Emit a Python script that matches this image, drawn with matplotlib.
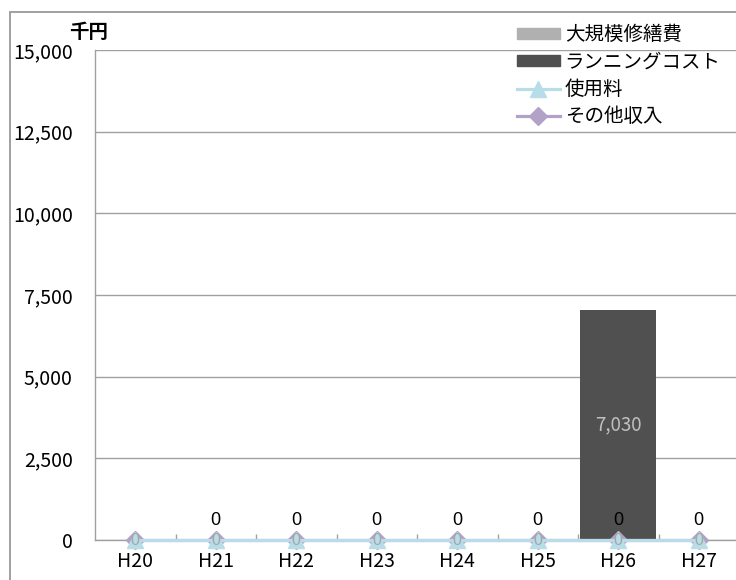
import numpy as np
import matplotlib.pyplot as plt
from matplotlib.lines import Line2D
from matplotlib.patches import Patch, Rectangle

plt.rcParams['font.family'] = ['Noto Sans CJK JP', 'DejaVu Sans']

# 年度別の収支（千円）
years = ['H20', 'H21', 'H22', 'H23', 'H24', 'H25', 'H26', 'H27']
repair_cost = [np.nan, 0, 0, 0, 0, 0, 0, 0]      # 大規模修繕費
running_cost = [0, 0, 0, 0, 0, 0, 7030, 0]        # ランニングコスト
usage_fee = [0, 0, 0, 0, 0, 0, 0, 0]              # 使用料
other_income = [0, 0, 0, 0, 0, 0, 0, 0]           # その他収入
y_ticks = [0, 2500, 5000, 7500, 10000, 12500, 15000]

C_REPAIR = '#B0B0B0'
C_RUNNING = '#505050'
C_USAGE = '#B7DDE8'
C_OTHER = '#B3A2C7'
C_GRID = '#A0A0A0'
NUM_FONT = ['Liberation Sans', 'DejaVu Sans']

W, H = 736, 580
fig = plt.figure(figsize=(W / 100, H / 100), dpi=100)
ax = fig.add_axes([95 / W, 40 / H, 644 / W, 490 / H])

x = np.arange(len(years))

# 棒グラフ
ax.bar(x, np.nan_to_num(repair_cost), width=0.95, color=C_REPAIR, zorder=2)
ax.bar(x, running_cost, width=0.95, color=C_RUNNING, zorder=2)

# 折れ線グラフ
ax.plot(x, other_income, color=C_OTHER, lw=2.3, marker='D', ms=9,
        mec=C_OTHER, mfc=C_OTHER, zorder=3, clip_on=False)
ax.plot(x, usage_fee, color=C_USAGE, lw=2.3, marker='^', ms=12,
        mec=C_USAGE, mfc=C_USAGE, zorder=4, clip_on=False)

# データラベル
for xi, v in zip(x, running_cost):
    if v > 0:
        ax.text(xi, v / 2, f'{v:,.0f}', ha='center', va='center',
                color='#C0C0C0', fontsize=13.5, zorder=5)
for xi, v in zip(x, repair_cost):
    if not np.isnan(v):
        ax.annotate(f'{v:,.0f}', (xi, v), xytext=(0, 14.2),
                    textcoords='offset points', ha='center', va='center',
                    color='black', fontsize=13, family=NUM_FONT, zorder=6)
for xi, v in zip(x, usage_fee):
    ax.annotate(f'{v:,.0f}', (xi, v), xytext=(0, -0.5),
                textcoords='offset points', ha='center', va='center',
                color='#A6A6A6', fontsize=11.5, family=NUM_FONT, zorder=6)

# 軸
ax.set_xlim(-0.5, len(years) - 0.5)
ax.set_ylim(0, 15000)
ax.set_yticks(y_ticks)
ax.set_yticklabels([f'{t:,}' for t in y_ticks], fontsize=14)
ax.set_xticks(x)
ax.set_xticklabels(years, fontsize=14)
ax.set_xticks(x[:-1] + 0.5, minor=True)
ax.tick_params(axis='y', length=0, pad=16)
ax.tick_params(axis='x', which='major', length=0, pad=8)
ax.tick_params(axis='x', which='minor', length=4.5, direction='in',
               color=C_GRID, width=1)
ax.grid(axis='y', color=C_GRID, lw=1, zorder=0)
ax.set_axisbelow(True)
for s in ['top', 'right']:
    ax.spines[s].set_visible(False)
for s in ['left', 'bottom']:
    ax.spines[s].set_color(C_GRID)
    ax.spines[s].set_linewidth(1)

fig.text(89 / W, 1 - 32 / H, '千円', ha='center', va='center',
         fontsize=14, fontweight='bold')

# 凡例
handles = [
    Patch(color=C_REPAIR),
    Patch(color=C_RUNNING),
    Line2D([], [], color=C_USAGE, lw=2.3, marker='^', ms=11, mec=C_USAGE),
    Line2D([], [], color=C_OTHER, lw=2.3, marker='D', ms=9, mec=C_OTHER),
]
labels = ['大規模修繕費', 'ランニングコスト', '使用料', 'その他収入']
fig.legend(handles, labels, loc='upper left',
           bbox_to_anchor=(517 / W, 1 - 24 / H), frameon=False,
           fontsize=14, borderpad=0, borderaxespad=0, handlelength=2.2,
           handleheight=0.5, handletextpad=0.25, labelspacing=0.33)

# 外枠
fig.add_artist(Rectangle((10 / W, -0.1), 1.1, 1.1 - 12 / H,
                         transform=fig.transFigure, fill=False,
                         ec='#999999', lw=1.3))

fig.savefig('out.png', dpi=100)
